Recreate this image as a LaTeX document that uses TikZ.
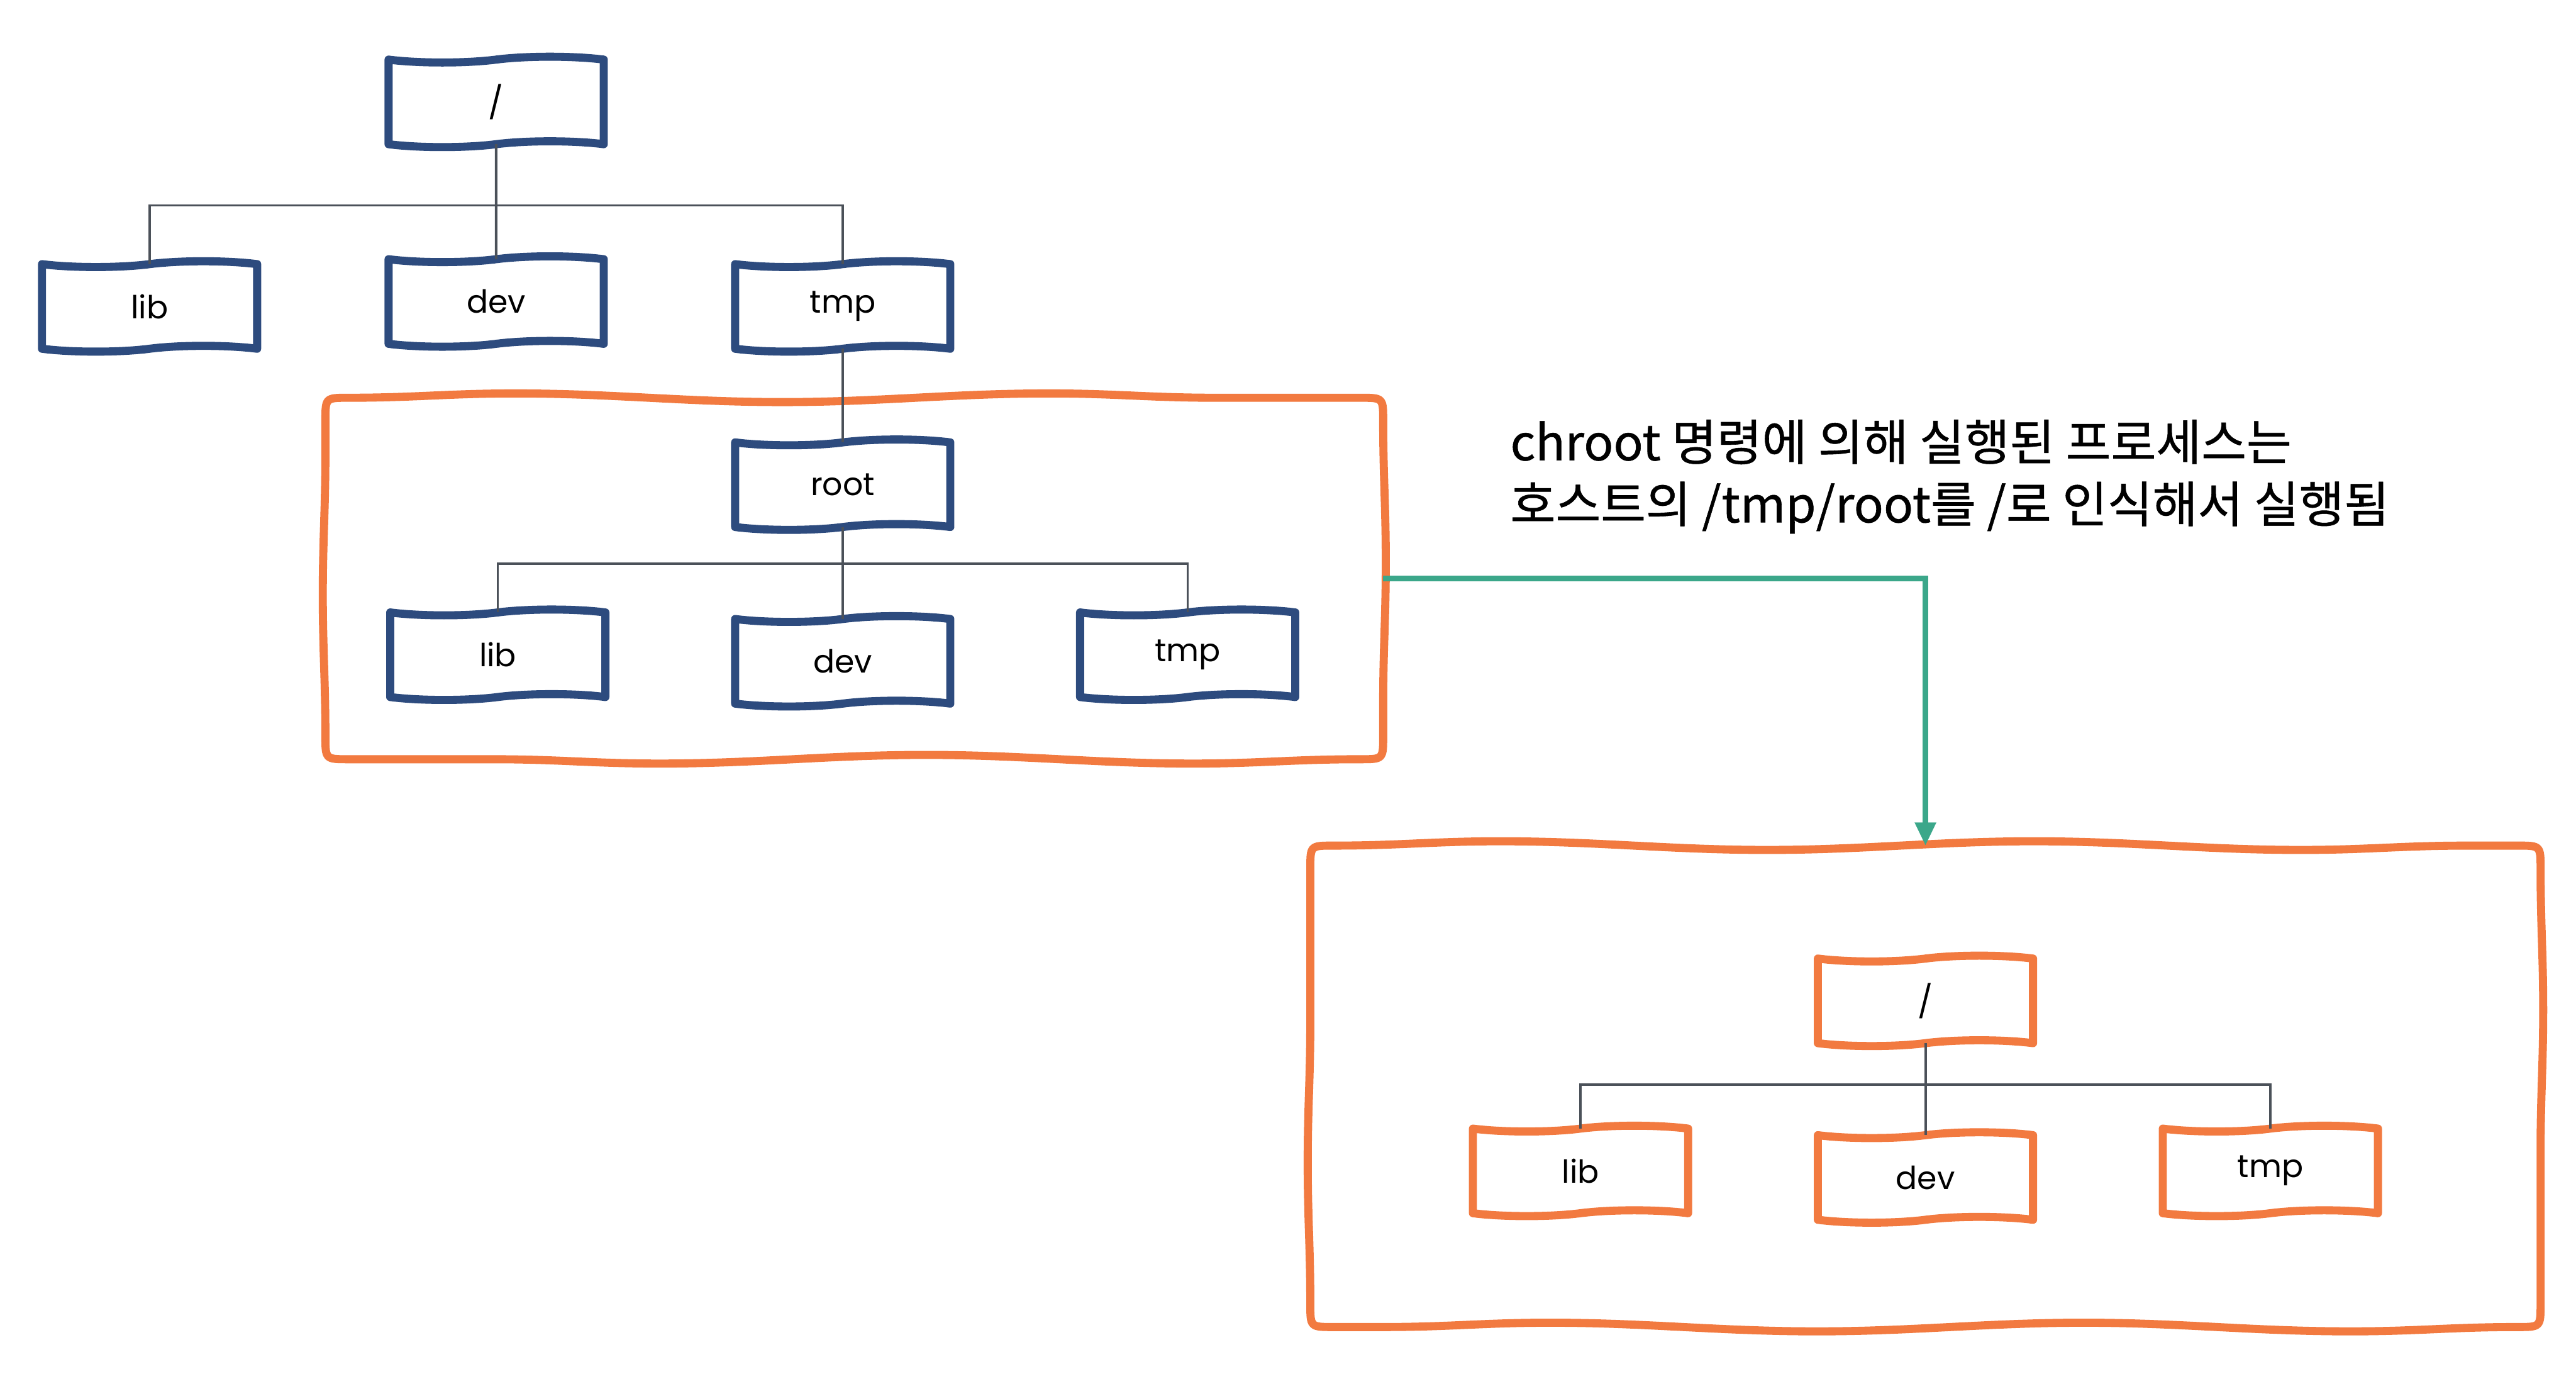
\documentclass[tikz,border=0pt]{standalone}
\usepackage{fontspec}
\usepackage{tikz}
\usetikzlibrary{arrows.meta, positioning, shapes.symbols, decorations.pathmorphing}
\setmainfont{Poppins}
\newfontfamily\kofont{Noto Sans CJK KR}[FakeBold=0.7]
\definecolor{dirblue}{HTML}{2D4B7E}
\definecolor{jailorange}{HTML}{F27A40}
\definecolor{linkgray}{HTML}{4B5159}
\definecolor{flowgreen}{HTML}{3BA78A}

% hand drawn frame around a jail node
\newcommand{\jailframe}[1]{%
  \draw[jailline]
    ([yshift=-8pt]#1.north west) .. controls (#1.north west) .. ([xshift=8pt]#1.north west)
    decorate[decoration={snake, amplitude=1.5pt, segment length=6.5cm}]
      {-- ([xshift=-8pt]#1.north east)}
    .. controls (#1.north east) .. ([yshift=-8pt]#1.north east)
    decorate[decoration={snake, amplitude=0.9pt, segment length=5.5cm}]
      {-- ([yshift=8pt]#1.south east)}
    .. controls (#1.south east) .. ([xshift=-8pt]#1.south east)
    decorate[decoration={snake, amplitude=1.5pt, segment length=6.5cm}]
      {-- ([xshift=8pt]#1.south west)}
    .. controls (#1.south west) .. ([yshift=8pt]#1.south west)
    decorate[decoration={snake, amplitude=0.9pt, segment length=5.5cm}]
      {-- ([yshift=-8pt]#1.north west)};
}

\begin{document}
\begin{tikzpicture}[
    x=0.02cm, y=-0.02cm,
    dirbox/.style={tape, draw=dirblue, line width=2.8pt, line join=round,
                   tape bend top=in and out, tape bend bottom=in and out,
                   tape bend height=2pt, minimum width=2.62cm, minimum height=1.1cm,
                   outer sep=0pt, inner sep=0pt, font=\fontsize{11}{13}\selectfont},
    jaildir/.style={dirbox, draw=jailorange},
    jail/.style={rectangle, draw=none, outer sep=0pt},
    jailline/.style={draw=jailorange, line width=2.8pt, line join=round, line cap=round},
    link/.style={draw=linkgray, line width=0.85pt},
    flow/.style={-{Triangle[length=8pt, width=7pt]}, draw=flowgreen, line width=1.8pt},
    node distance=1.6cm
]
    \useasboundingbox (0,0) rectangle (1568,836);

    % host file system
    \node[dirbox] (hroot) at (302,62) {/};
    \node[dirbox, below=1.4cm of hroot] (hdev) {dev};
    \node[dirbox, left=of hdev, yshift=-0.06cm] (hlib) {lib};
    \node[dirbox, right=of hdev, yshift=-0.06cm] (htmp) {tmp};
    \coordinate (hbar) at (302,125);

    \draw[link] (hroot) -- (hdev);
    \draw[link] (hlib.north) -- (hlib.north |- hbar) -- (htmp.north |- hbar) -- (htmp.north);

    % chroot jail (/tmp/root)
    \node[jail, minimum width=12.88cm, minimum height=4.4cm] (jail1) at (520,352) {};
    \jailframe{jail1}
    \node[dirbox, below=1.14cm of htmp] (jroot) {root};
    \node[dirbox, below=1.12cm of jroot] (jdev) {dev};
    \node[dirbox, left=1.58cm of jdev, yshift=0.08cm] (jlib) {lib};
    \node[dirbox, right=1.58cm of jdev, yshift=0.08cm] (jtmp) {tmp};
    \coordinate (jbar) at (512,343);

    \draw[link] (htmp) -- (jroot);
    \draw[link] (jroot) -- (jdev);
    \draw[link] (jlib.north) -- (jlib.north |- jbar) -- (jtmp.north |- jbar) -- (jtmp.north);

    % what the process sees
    \node[jail, minimum width=14.98cm, minimum height=5.86cm] (jail2) at (1172,661) {};
    \jailframe{jail2}
    \node[jaildir] (proot) at (1172,609) {/};
    \node[jaildir, below=1.12cm of proot] (pdev) {dev};
    \node[jaildir, left=1.58cm of pdev, yshift=0.08cm] (plib) {lib};
    \node[jaildir, right=1.58cm of pdev, yshift=0.08cm] (ptmp) {tmp};
    \coordinate (pbar) at (1172,660);

    \draw[link] (proot) -- (pdev);
    \draw[link] (plib.north) -- (plib.north |- pbar) -- (ptmp.north |- pbar) -- (ptmp.north);

    \draw[flow] (jail1.east) -| (jail2.north);

    \node[anchor=west, align=left, inner sep=0pt,
          font=\kofont\fontsize{17}{21.5}\selectfont] (note) at (919,290)
        {chroot 명령에 의해 실행된 프로세스는\\호스트의 /tmp/root를 /로 인식해서 실행됨};
\end{tikzpicture}
\end{document}
